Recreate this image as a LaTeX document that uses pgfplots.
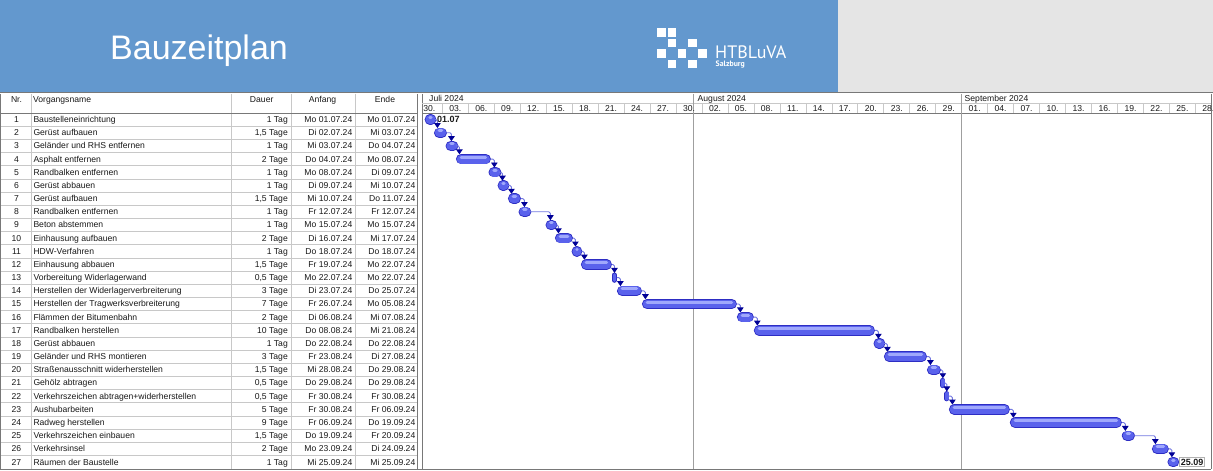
\documentclass[border=0pt]{standalone}
\usepackage{pgfplots}
\pgfplotsset{compat=1.18}
\usepackage{pgfplotstable}
\usepackage{fontspec}
\setmainfont{Liberation Sans}
\newfontfamily\logofont{PT Sans}
\usetikzlibrary{arrows.meta}

\definecolor{band}{RGB}{99,152,206}
\definecolor{greyband}{RGB}{229,229,229}
\definecolor{gridc}{RGB}{200,200,200}
\definecolor{framec}{RGB}{120,120,120}
\definecolor{barEdge}{RGB}{45,45,195}
\definecolor{barFill}{RGB}{90,98,236}
\definecolor{barHi}{RGB}{160,168,252}
\definecolor{arrowc}{RGB}{0,0,150}
\definecolor{linkc}{RGB}{115,120,225}
\definecolor{txt}{RGB}{25,25,25}

% bars: row, start, end (days after 1 July 2024, 0:00)
\pgfplotstableread{
row s e
1 0.12 1.16
2 1.04 2.54
3 2.66 3.58
4 3.58 7.62
5 7.62 8.55
6 8.55 9.59
7 9.59 11.09
8 11.09 12.01
9 14.09 15.13
10 15.02 17.10
11 16.98 18.14
12 18.02 21.60
14 22.18 25.07
15 25.07 36.04
16 36.04 38.00
17 38.00 51.99
18 51.99 53.03
19 53.03 58.00
20 58.00 59.61
23 60.54 67.58
24 67.58 80.52
25 80.52 82.02
26 83.99 85.95
27 85.95 86.99
}\tasks

\pgfplotstableread{
row s e
13 21.60 22.18
21 59.61 60.07
22 60.07 60.54
}\halftasks

\pgfplotsset{
  barlayer/.style 2 args={draw=none, mark=none, forget plot,
    /pgfplots/error bars/x dir=plus,
    /pgfplots/error bars/x explicit,
    /pgfplots/error bars/error mark=none,
    /pgfplots/error bars/error bar style={line width=#1, line cap=round, draw=#2, solid}},
  halflayer/.style 2 args={draw=none, mark=none, forget plot,
    /pgfplots/error bars/y dir=both,
    /pgfplots/error bars/y fixed=0.2,
    /pgfplots/error bars/error mark=none,
    /pgfplots/error bars/error bar style={line width=#1, line cap=round, draw=#2, solid}},
}

% link: end of predecessor, x of arrow, row of predecessor (negative), arrow tip y
\newcommand{\lnk}[4]{\addplot[linkc, line width=0.9pt, rounded corners=1.5pt, mark=none, forget plot,
  -{Triangle[width=6.5pt,length=5pt,color=arrowc]}] coordinates {(#1,#3) (#2,#3) (#2,#4)};}

\begin{document}
\begin{tikzpicture}[font=\fontsize{8.6}{10}\selectfont]
\begin{scope}[x=1pt,y=1pt,yshift=471pt]
\useasboundingbox (0,0) rectangle (1213,-471);
\fill[white] (0,0) rectangle (1213,-471);
% banner
\fill[band] (0,0) rectangle (838,-92);
\fill[greyband] (838,0) rectangle (1213,-92);
\draw[framec, line width=1.5pt] (0,-92.75) -- (1213,-92.75);
\node[anchor=base west, text=white, font=\fontsize{34}{40}\selectfont, inner sep=0] at (110,-59.5) {Bauzeitplan};
\foreach \cx/\cy in {0/0,1/0,1/1,3/1,0/2,2/2,4/2,1/3,3/3}
  \fill[white] ({657.4+\cx*10.2},{-(28.3+\cy*10.45)}) rectangle ++(8.6,-8.4);
\node[anchor=base west, text=white, font=\logofont\fontsize{18}{20}\selectfont, inner sep=0] at (715,-58.3) {HTBLuVA};
\node[anchor=base west, text=white, font=\logofont\bfseries\fontsize{7.8}{9}\selectfont, inner sep=0] at (715.5,-66.8) {Salzburg};

% table grid
\foreach \k in {1,...,26}
  \draw[gridc, line width=0.6pt] (0,{-(113+\k*13.17)}) -- (417,{-(113+\k*13.17)});
\foreach \xx in {31.7,231.7,291,355}
  \draw[gridc, line width=0.6pt] (\xx,-94) -- (\xx,-468.6);
\draw[framec, line width=0.8pt] (0,-113) -- (417,-113);
\draw[framec, line width=0.8pt] (0.5,-94) -- (0.5,-469);
\draw[framec, line width=0.8pt] (417,-94) -- (417,-469);
% gantt frame
\draw[framec, line width=0.8pt] (422,-94) -- (422,-469);
\draw[framec, line width=0.8pt] (1211,-94) -- (1211,-469);
\draw[gridc, line width=0.6pt] (422,-103.5) -- (1211,-103.5);
\draw[framec, line width=0.8pt] (422,-113) -- (1211,-113);
\foreach \k in {1,...,30}
  \draw[gridc, line width=0.6pt] ({416.3+25.97*\k},-103.5) -- ({416.3+25.97*\k},-113);
\draw[gray!75, line width=0.8pt] (693.3,-94) -- (693.3,-469);
\draw[gray!75, line width=0.8pt] (961.7,-94) -- (961.7,-469);
\draw[framec, line width=1.2pt] (0,-469.2) -- (1211,-469.2);

% header texts
\begin{scope}[every node/.style={inner sep=0, text=txt}]
\node[anchor=base] at (16.5,-103) {Nr.};
\node[anchor=base west] at (33,-103) {Vorgangsname};
\node[anchor=base] at (261.7,-103) {Dauer};
\node[anchor=base] at (322.5,-103) {Anfang};
\node[anchor=base] at (385,-103) {Ende};
\node[anchor=base west] at (429,-101.3) {Juli 2024};
\node[anchor=base west] at (697.5,-101.3) {August 2024};
\node[anchor=base west] at (964.5,-101.3) {September 2024};
\foreach \k/\lab in {0/30.,1/03.,2/06.,3/09.,4/12.,5/15.,6/18.,7/21.,8/24.,9/27.,10/30.,
  11/02.,12/05.,13/08.,14/11.,15/14.,16/17.,17/20.,18/23.,19/26.,20/29.,
  21/01.,22/04.,23/07.,24/10.,25/13.,26/16.,27/19.,28/22.,29/25.,30/28.}
  \node[anchor=base] at ({429.3+25.97*\k},-111.3) {\lab};
\foreach \n/\name/\dau/\anf/\ende in {
  1/Baustelleneinrichtung/1 Tag/Mo 01.07.24/Mo 01.07.24,
  2/Gerüst aufbauen/{1,5 Tage}/Di 02.07.24/Mi 03.07.24,
  3/Geländer und RHS entfernen/1 Tag/Mi 03.07.24/Do 04.07.24,
  4/Asphalt entfernen/2 Tage/Do 04.07.24/Mo 08.07.24,
  5/Randbalken entfernen/1 Tag/Mo 08.07.24/Di 09.07.24,
  6/Gerüst abbauen/1 Tag/Di 09.07.24/Mi 10.07.24,
  7/Gerüst aufbauen/{1,5 Tage}/Mi 10.07.24/Do 11.07.24,
  8/Randbalken entfernen/1 Tag/Fr 12.07.24/Fr 12.07.24,
  9/Beton abstemmen/1 Tag/Mo 15.07.24/Mo 15.07.24,
  10/Einhausung aufbauen/2 Tage/Di 16.07.24/Mi 17.07.24,
  11/HDW-Verfahren/1 Tag/Do 18.07.24/Do 18.07.24,
  12/Einhausung abbauen/{1,5 Tage}/Fr 19.07.24/Mo 22.07.24,
  13/Vorbereitung Widerlagerwand/{0,5 Tage}/Mo 22.07.24/Mo 22.07.24,
  14/Herstellen der Widerlagerverbreiterung/3 Tage/Di 23.07.24/Do 25.07.24,
  15/Herstellen der Tragwerksverbreiterung/7 Tage/Fr 26.07.24/Mo 05.08.24,
  16/Flämmen der Bitumenbahn/2 Tage/Di 06.08.24/Mi 07.08.24,
  17/Randbalken herstellen/10 Tage/Do 08.08.24/Mi 21.08.24,
  18/Gerüst abbauen/1 Tag/Do 22.08.24/Do 22.08.24,
  19/Geländer und RHS montieren/3 Tage/Fr 23.08.24/Di 27.08.24,
  20/Straßenausschnitt widerherstellen/{1,5 Tage}/Mi 28.08.24/Do 29.08.24,
  21/Gehölz abtragen/{0,5 Tage}/Do 29.08.24/Do 29.08.24,
  22/Verkehrszeichen abtragen+widerherstellen/{0,5 Tage}/Fr 30.08.24/Fr 30.08.24,
  23/Aushubarbeiten/5 Tage/Fr 30.08.24/Fr 06.09.24,
  24/Radweg herstellen/9 Tage/Fr 06.09.24/Do 19.09.24,
  25/Verkehrszeichen einbauen/{1,5 Tage}/Do 19.09.24/Fr 20.09.24,
  26/Verkehrsinsel/2 Tage/Mo 23.09.24/Di 24.09.24,
  27/Räumen der Baustelle/1 Tag/Mi 25.09.24/Mi 25.09.24}
{
  \node[anchor=base] at (16.5,{-(122.6+(\n-1)*13.17)}) {\n};
  \node[anchor=base west] at (33.3,{-(122.6+(\n-1)*13.17)}) {\name};
  \node[anchor=base east] at (288,{-(122.6+(\n-1)*13.17)}) {\dau};
  \node[anchor=base east] at (352.5,{-(122.6+(\n-1)*13.17)}) {\anf};
  \node[anchor=base east] at (415.5,{-(122.6+(\n-1)*13.17)}) {\ende};
}
\end{scope}
\end{scope}

% Gantt axis: lower-left corner at the picture origin, 1213pt x 377pt
\begin{axis}[scale only axis,
  width=1213pt, height=377pt,
  xmin=-49.10, xmax=91.04, ymin=-27.68, ymax=0.943,
  hide axis, clip=false]
% bars (outline, body, highlight); rows are plotted downwards at y = -row
\addplot[barlayer={10.4pt}{barEdge}] table[x expr=\thisrow{s}+0.6, y expr=-\thisrow{row}, x error expr=\thisrow{e}-\thisrow{s}-1.2]{\tasks};
\addplot[barlayer={8.8pt}{barFill}] table[x expr=\thisrow{s}+0.6, y expr=-\thisrow{row}, x error expr=\thisrow{e}-\thisrow{s}-1.2]{\tasks};
\addplot[barlayer={3pt}{barHi}] table[x expr=\thisrow{s}+0.6, y expr=-\thisrow{row}+0.15, x error expr=\thisrow{e}-\thisrow{s}-1.2]{\tasks};
\addplot[halflayer={5pt}{barEdge}] table[x expr=(\thisrow{s}+\thisrow{e})/2, y expr=-\thisrow{row}]{\halftasks};
\addplot[halflayer={3.4pt}{barFill}] table[x expr=(\thisrow{s}+\thisrow{e})/2, y expr=-\thisrow{row}]{\halftasks};
% links
\lnk{1.16}{1.44}{-1}{-1.64}
\lnk{2.54}{3.06}{-2}{-2.64}
\lnk{3.58}{3.98}{-3}{-3.64}
\lnk{7.62}{8.02}{-4}{-4.64}
\lnk{8.55}{8.95}{-5}{-5.64}
\lnk{9.59}{9.99}{-6}{-6.64}
\lnk{11.09}{11.49}{-7}{-7.64}
\lnk{12.01}{14.49}{-8}{-8.64}
\lnk{15.13}{15.42}{-9}{-9.64}
\lnk{17.10}{17.38}{-10}{-10.64}
\lnk{18.14}{18.42}{-11}{-11.64}
\lnk{21.60}{21.90}{-12}{-12.64}
\lnk{22.18}{22.58}{-13}{-13.64}
\lnk{25.07}{25.47}{-14}{-14.64}
\lnk{36.04}{36.44}{-15}{-15.64}
\lnk{38.00}{38.40}{-16}{-16.64}
\lnk{51.99}{52.39}{-17}{-17.64}
\lnk{53.03}{53.43}{-18}{-18.64}
\lnk{58.00}{58.40}{-19}{-19.64}
\lnk{59.61}{59.84}{-20}{-20.64}
\lnk{60.07}{60.30}{-21}{-21.64}
\lnk{60.54}{60.94}{-22}{-22.64}
\lnk{67.58}{67.98}{-23}{-23.64}
\lnk{80.52}{80.92}{-24}{-24.64}
\lnk{82.02}{84.39}{-25}{-25.64}
\lnk{85.95}{86.30}{-26}{-26.64}
\node[anchor=west, inner sep=0, font=\bfseries\fontsize{9}{10}\selectfont, text=txt] at (axis cs:1.39,-1) {01.07};
\node[anchor=west, inner sep=1.2pt, draw=gray!60, fill=white, font=\bfseries\fontsize{9}{10}\selectfont, text=txt] at (axis cs:87.17,-27) {25.09};
\end{axis}
\end{tikzpicture}
\end{document}
